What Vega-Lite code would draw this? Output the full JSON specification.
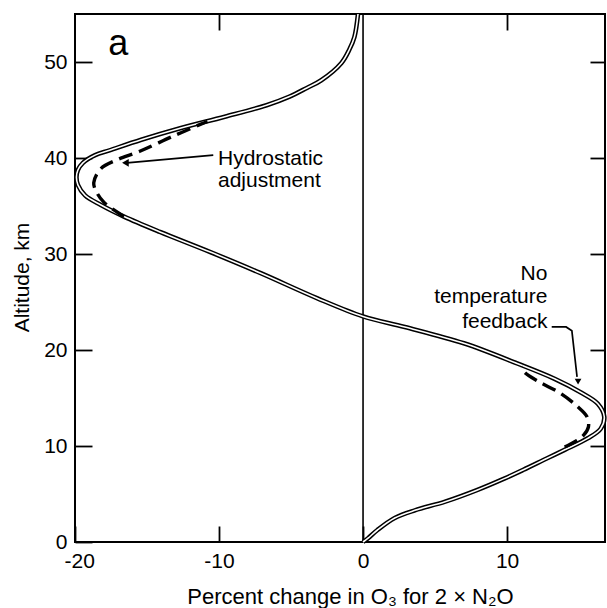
{
  "$schema": "https://vega.github.io/schema/vega-lite/v6.json",
  "width": 530,
  "height": 528,
  "autosize": {"type": "none"},
  "padding": {"left": 75, "top": 14, "right": 2, "bottom": 66},
  "background": "white",
  "config": {
    "view": {"stroke": "black", "strokeWidth": 2},
    "font": "Liberation Sans",
    "axis": {
      "grid": false,
      "domain": false,
      "tickColor": "black",
      "tickWidth": 1.8,
      "labelFont": "Liberation Sans",
      "labelFontSize": 21,
      "labelColor": "black",
      "titleFont": "Liberation Sans",
      "titleFontSize": 21,
      "titleColor": "black",
      "titleFontWeight": "normal"
    }
  },
  "datasets": {
    "solid": [
      {"alt": 0, "pct": 0},
      {"alt": 0.4, "pct": 0.35},
      {"alt": 1.25, "pct": 1.0},
      {"alt": 2.5, "pct": 2.2},
      {"alt": 3.3, "pct": 3.6},
      {"alt": 4.2, "pct": 5.7},
      {"alt": 5.4, "pct": 7.9},
      {"alt": 6.6, "pct": 9.8},
      {"alt": 7.5, "pct": 11.1},
      {"alt": 8.7, "pct": 12.75},
      {"alt": 9.6, "pct": 14.0},
      {"alt": 10.8, "pct": 15.6},
      {"alt": 11.8, "pct": 16.5},
      {"alt": 13.05, "pct": 16.75},
      {"alt": 14.4, "pct": 16.3},
      {"alt": 15.6, "pct": 15.1},
      {"alt": 17.0, "pct": 13.3},
      {"alt": 18.6, "pct": 10.7},
      {"alt": 20.7, "pct": 7.0},
      {"alt": 22.4, "pct": 2.9},
      {"alt": 23.5, "pct": 0},
      {"alt": 25.4, "pct": -3.2},
      {"alt": 28.0, "pct": -7.1},
      {"alt": 30.2, "pct": -10.6},
      {"alt": 32.3, "pct": -14.1},
      {"alt": 33.9, "pct": -16.6},
      {"alt": 35.1, "pct": -18.2},
      {"alt": 36.1, "pct": -19.3},
      {"alt": 37.2, "pct": -19.8},
      {"alt": 38.0, "pct": -19.9},
      {"alt": 38.75, "pct": -19.8},
      {"alt": 39.5, "pct": -19.45},
      {"alt": 40.3, "pct": -18.6},
      {"alt": 40.8, "pct": -17.6},
      {"alt": 41.9, "pct": -15.4},
      {"alt": 43.1, "pct": -12.7},
      {"alt": 44.3, "pct": -9.6},
      {"alt": 45.5, "pct": -6.7},
      {"alt": 46.4, "pct": -5.1},
      {"alt": 47.3, "pct": -3.9},
      {"alt": 48.1, "pct": -2.9},
      {"alt": 49.9, "pct": -1.5},
      {"alt": 51.3, "pct": -0.95},
      {"alt": 52.6, "pct": -0.6},
      {"alt": 55, "pct": -0.35}
    ],
    "dashed": [
      {"alt": 9.9, "pct": 14.0, "part": "low"},
      {"alt": 10.45, "pct": 14.7, "part": "low"},
      {"alt": 11.1, "pct": 15.3, "part": "low"},
      {"alt": 12.0, "pct": 15.65, "part": "low"},
      {"alt": 13.05, "pct": 15.55, "part": "low"},
      {"alt": 14.1, "pct": 14.9, "part": "low"},
      {"alt": 15.5, "pct": 13.7, "part": "low"},
      {"alt": 16.7, "pct": 12.2, "part": "low"},
      {"alt": 17.7, "pct": 11.2, "part": "low"},
      {"alt": 18.3, "pct": 11.0, "part": "low"},
      {"alt": 33.9, "pct": -16.6, "part": "high"},
      {"alt": 34.6, "pct": -17.3, "part": "high"},
      {"alt": 35.4, "pct": -18.0, "part": "high"},
      {"alt": 36.3, "pct": -18.45, "part": "high"},
      {"alt": 37.4, "pct": -18.7, "part": "high"},
      {"alt": 38.9, "pct": -18.2, "part": "high"},
      {"alt": 39.8, "pct": -17.1, "part": "high"},
      {"alt": 40.7, "pct": -15.5, "part": "high"},
      {"alt": 42.2, "pct": -13.3, "part": "high"},
      {"alt": 43.5, "pct": -11.3, "part": "high"},
      {"alt": 43.8, "pct": -10.8, "part": "high"}
    ],
    "leaders": [
      {"seg": "hydro", "pct": -10.4, "alt": 40.3},
      {"seg": "hydro", "pct": -16.4, "alt": 39.5},
      {"seg": "notemp", "pct": 13.1, "alt": 22.4},
      {"seg": "notemp", "pct": 14.1, "alt": 22.4},
      {"seg": "notemp", "pct": 14.5, "alt": 22.0},
      {"seg": "notemp", "pct": 14.86, "alt": 17.2}
    ]
  },
  "layer": [
    {
      "data": {"values": [{"pct": 0}]},
      "mark": {"type": "rule", "color": "black", "strokeWidth": 1.6},
      "encoding": {
        "x": {"field": "pct", "type": "quantitative", "scale": {"domain": [-20, 16.8], "nice": false, "zero": false}, "axis": null}
      }
    },
    {
      "data": {"name": "solid"},
      "mark": {"type": "line", "color": "black", "strokeWidth": 4.6, "strokeJoin": "round", "interpolate": "catmull-rom"},
      "encoding": {
        "x": {
          "field": "pct", "type": "quantitative",
          "scale": {"domain": [-20, 16.8], "nice": false, "zero": false},
          "axis": {"orient": "bottom", "values": [-20, -10, 0, 10], "offset": -16, "tickSize": 16, "labelPadding": 8, "labelFlush": true, "labelFlushOffset": 11, "labelExpr": "'' + datum.value",
            "title": "Percent change in O₃ for 2 × N₂O", "titleFontSize": 22, "titleX": 275, "titleY": 77, "titleBaseline": "alphabetic"}
        },
        "y": {
          "field": "alt", "type": "quantitative",
          "scale": {"domain": [0, 55], "nice": false, "zero": false},
          "axis": {"orient": "left", "values": [0, 10, 20, 30, 40, 50], "offset": -17, "tickSize": 17, "labelPadding": 8, "labelFlush": false,
            "title": "Altitude, km", "titleX": -63.5, "titleY": 263, "titleBaseline": "alphabetic", "titleAngle": 270}
        },
        "order": {"field": "alt", "type": "quantitative"}
      }
    },
    {
      "data": {"name": "solid"},
      "mark": {"type": "line", "color": "white", "strokeWidth": 1.6, "strokeJoin": "round", "interpolate": "catmull-rom"},
      "encoding": {
        "x": {
          "field": "pct", "type": "quantitative",
          "scale": {"domain": [-20, 16.8], "nice": false, "zero": false},
          "axis": {"orient": "top", "values": [-10, 10], "offset": -16, "tickSize": 16, "labels": false, "title": null}
        },
        "y": {
          "field": "alt", "type": "quantitative",
          "scale": {"domain": [0, 55], "nice": false, "zero": false},
          "axis": {"orient": "right", "values": [10, 20, 30, 40, 50], "offset": -15, "tickSize": 15, "labels": false, "title": null}
        },
        "order": {"field": "alt", "type": "quantitative"}
      }
    },
    {
      "data": {"name": "dashed"},
      "mark": {"type": "line", "color": "black", "strokeWidth": 3.4, "strokeDash": [14, 7], "interpolate": "catmull-rom"},
      "encoding": {
        "x": {"field": "pct", "type": "quantitative", "scale": {"domain": [-20, 16.8], "nice": false, "zero": false}, "axis": null},
        "y": {"field": "alt", "type": "quantitative", "scale": {"domain": [0, 55], "nice": false, "zero": false}, "axis": null},
        "detail": {"field": "part"},
        "order": {"field": "alt", "type": "quantitative"}
      }
    },
    {
      "data": {"name": "leaders"},
      "mark": {"type": "line", "color": "black", "strokeWidth": 1.7},
      "encoding": {
        "x": {"field": "pct", "type": "quantitative", "scale": {"domain": [-20, 16.8], "nice": false, "zero": false}, "axis": null},
        "y": {"field": "alt", "type": "quantitative", "scale": {"domain": [0, 55], "nice": false, "zero": false}, "axis": null},
        "detail": {"field": "seg"}
      }
    },
    {
      "data": {"values": [{"pct": -16.5, "alt": 39.5}]},
      "mark": {"type": "point", "shape": "triangle-left", "filled": true, "color": "black", "size": 60, "opacity": 1},
      "encoding": {
        "x": {"field": "pct", "type": "quantitative", "scale": {"domain": [-20, 16.8], "nice": false, "zero": false}, "axis": null},
        "y": {"field": "alt", "type": "quantitative", "scale": {"domain": [0, 55], "nice": false, "zero": false}, "axis": null}
      }
    },
    {
      "data": {"values": [{"pct": 14.93, "alt": 16.7}]},
      "mark": {"type": "point", "shape": "triangle-down", "filled": true, "color": "black", "size": 45, "opacity": 1},
      "encoding": {
        "x": {"field": "pct", "type": "quantitative", "scale": {"domain": [-20, 16.8], "nice": false, "zero": false}, "axis": null},
        "y": {"field": "alt", "type": "quantitative", "scale": {"domain": [0, 55], "nice": false, "zero": false}, "axis": null}
      }
    },
    {
      "data": {"values": [{"pct": -17.0, "alt": 50.7, "label": "a"}]},
      "mark": {"type": "text", "font": "Liberation Sans", "fontSize": 36, "align": "center", "baseline": "alphabetic", "color": "black"},
      "encoding": {
        "x": {"field": "pct", "type": "quantitative", "scale": {"domain": [-20, 16.8], "nice": false, "zero": false}, "axis": null},
        "y": {"field": "alt", "type": "quantitative", "scale": {"domain": [0, 55], "nice": false, "zero": false}, "axis": null},
        "text": {"field": "label"}
      }
    },
    {
      "data": {"values": [
        {"pct": -10.07, "alt": 39.27, "label": "Hydrostatic"},
        {"pct": -10.07, "alt": 36.98, "label": "adjustment"}
      ]},
      "mark": {"type": "text", "font": "Liberation Sans", "fontSize": 21, "align": "left", "baseline": "alphabetic", "color": "black"},
      "encoding": {
        "x": {"field": "pct", "type": "quantitative", "scale": {"domain": [-20, 16.8], "nice": false, "zero": false}, "axis": null},
        "y": {"field": "alt", "type": "quantitative", "scale": {"domain": [0, 55], "nice": false, "zero": false}, "axis": null},
        "text": {"field": "label"}
      }
    },
    {
      "data": {"values": [
        {"pct": 12.8, "alt": 27.3, "label": "No"},
        {"pct": 12.8, "alt": 24.86, "label": "temperature"},
        {"pct": 12.8, "alt": 22.26, "label": "feedback"}
      ]},
      "mark": {"type": "text", "font": "Liberation Sans", "fontSize": 21, "align": "right", "baseline": "alphabetic", "color": "black"},
      "encoding": {
        "x": {"field": "pct", "type": "quantitative", "scale": {"domain": [-20, 16.8], "nice": false, "zero": false}, "axis": null},
        "y": {"field": "alt", "type": "quantitative", "scale": {"domain": [0, 55], "nice": false, "zero": false}, "axis": null},
        "text": {"field": "label"}
      }
    }
  ],
  "resolve": {"axis": {"x": "independent", "y": "independent"}}
}
